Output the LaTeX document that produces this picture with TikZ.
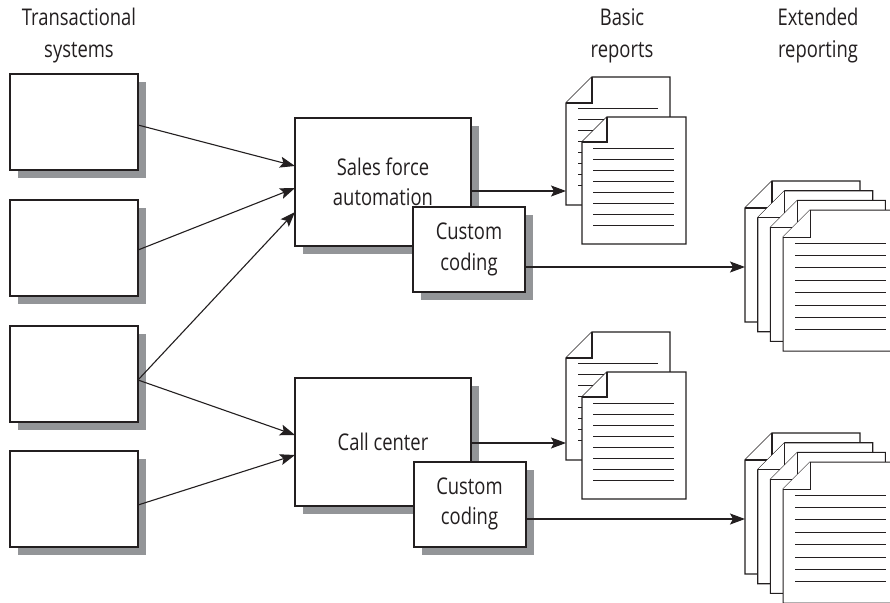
\documentclass[tikz,border=0pt]{standalone}
\usepackage{fontspec}
\setmainfont{Open Sans}[FakeStretch=0.8]
\usetikzlibrary{arrows.meta,shadows,calc}
\definecolor{ink}{HTML}{231F20}
\definecolor{shadowgray}{HTML}{939598}

% one sheet of paper with a folded top-left corner: x, y, width, height, fold size
\newcommand\docsheet[5]{%
  \filldraw[docline] ({#1},{#2+#5}) -- ({#1+#5},{#2}) -- ({#1+#3},{#2})
     -- ({#1+#3},{#2+#4}) -- ({#1},{#2+#4}) -- cycle;
  \draw[docline] ({#1+#5},{#2}) -- ({#1+#5},{#2+#5}) -- ({#1},{#2+#5});
}
% eight ruled text lines on a sheet: x, y, first offset, spacing, left, right
\newcommand\docrules[6]{%
  \foreach \k in {0,...,7}
    \draw[ruleline] ({#1+#5},{#2+#3+#4*\k}) -- ({#1+#6},{#2+#3+#4*\k});
}
% two overlapping report sheets
\newcommand\reportpair[2]{%
  \docsheet{#1}{#2}{104}{128}{26}
  \docrules{#1}{#2}{31}{11.1}{12}{92}
  \docsheet{#1+16}{#2+40}{104}{127}{25}
  \docrules{#1+16}{#2+40}{31}{11.1}{11}{92}
}
% a stack of four report sheets
\newcommand\reportstack[2]{%
  \foreach \i in {0,1,2,3}{\docsheet{#1+12.7*\i}{#2+9.7*\i}{115}{141}{27}}
  \docrules{#1+38.1}{#2+29.1}{33}{12.4}{12}{103}
}

\begin{document}
\begin{tikzpicture}[x=1pt,y=-1pt,
  font=\fontsize{23}{30.5}\selectfont, text=ink,
  sysbox/.style={draw=ink, line width=2pt, fill=white,
    minimum width=128pt, minimum height=96pt, inner sep=0pt, outer sep=0pt,
    drop shadow={shadow xshift=8pt, shadow yshift=-8pt, fill=shadowgray, opacity=1}},
  appbox/.style={sysbox, minimum width=176pt, minimum height=128pt, align=center},
  codebox/.style={sysbox, minimum width=112pt, minimum height=85pt, align=center},
  flow/.style={draw=ink, line width=1.1pt, -{Stealth[length=15pt,width=11pt,inset=3pt]}},
  docline/.style={draw=ink, fill=white, line width=1.1pt},
  ruleline/.style={draw=ink, line width=1pt},
  heading/.style={anchor=base, inner sep=0pt}]

\useasboundingbox (0,0) rectangle (890,602);
\clip (0,0) rectangle (890,602);
\fill[white] (0,0) rectangle (890,602);

% column headings
\node[heading] (hsys1) at (79,26) {Transactional};
\node[heading] (hsys2) at (79,57) {systems};
\node[heading] (hbas1) at (622,26) {Basic};
\node[heading] (hbas2) at (622,57) {reports};
\node[heading] (hext1) at (818,26) {Extended};
\node[heading] (hext2) at (818,57) {reporting};

% transactional systems
\node[sysbox] (t1) at (74,121.5) {};
\node[sysbox] (t2) at (74,248) {};
\node[sysbox] (t3) at (74,373.5) {};
\node[sysbox] (t4) at (74,499) {};

% applications with their custom code
\node[appbox] (sfa) at (383,182) {Sales force\\automation};
\node[codebox] (cc1) at (469,249.5) {Custom\\coding};
\node[appbox] (call) at (383,442) {Call center};
\node[codebox] (cc2) at (469.5,504) {Custom\\coding};

% reports
\reportpair{566}{77}
\reportpair{566}{332}
\reportstack{745}{181}
\reportstack{745}{433}

\coordinate (basicA) at (566,191);
\coordinate (extA) at (745,267);
\coordinate (basicB) at (566,443);
\coordinate (extB) at (745,519);

% data flows
\draw[flow] (t1.east |- 0,125) -- (sfa.west |- 0,166);
\draw[flow] (t2.east |- 0,250) -- (sfa.west |- 0,188);
\draw[flow] (t3.east |- 0,380) -- (sfa.west |- 0,212);
\draw[flow] (t3.east |- 0,380) -- (call.west |- 0,435);
\draw[flow] (t4.east |- 0,505) -- (call.west |- 0,455);
\draw[flow] (sfa.east |- basicA) -- (basicA);
\draw[flow] (cc1.east |- extA) -- (extA);
\draw[flow] (call.east |- basicB) -- (basicB);
\draw[flow] (cc2.east |- extB) -- (extB);
\end{tikzpicture}
\end{document}
